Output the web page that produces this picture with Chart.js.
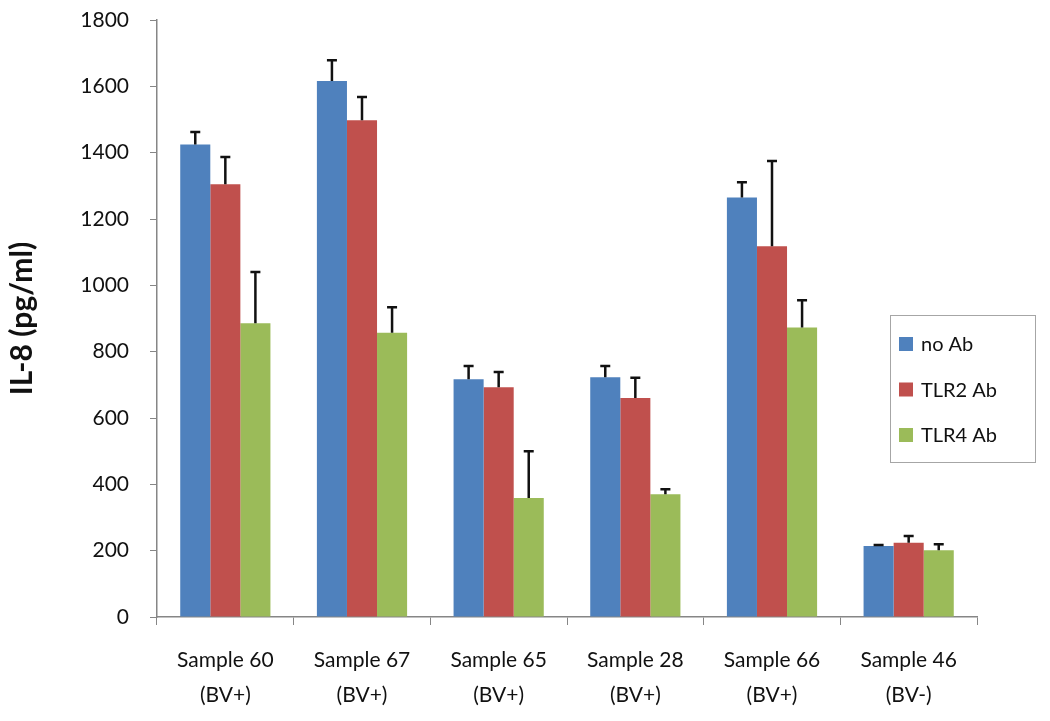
<!DOCTYPE html>
<html>
<head>
<meta charset="utf-8">
<script src="https://cdn.jsdelivr.net/npm/chart.js@4/dist/chart.umd.min.js"></script>
<style>
  html, body { margin: 0; padding: 0; background: #fff; }
  #wrap { width: 1050px; height: 721px; }
</style>
</head>
<body>
<div id="wrap"><canvas id="grafico"></canvas></div>
<script>
const categorias = [
  ['Sample 60', '(BV+)'],
  ['Sample 67', '(BV+)'],
  ['Sample 65', '(BV+)'],
  ['Sample 28', '(BV+)'],
  ['Sample 66', '(BV+)'],
  ['Sample 46', '(BV-)']
]
const series = ['no Ab', 'TLR2 Ab', 'TLR4 Ab']
const colores = ['#4F81BD', '#C0504D', '#9BBB59']

const valoresNoAb = [1425, 1616, 717, 723, 1265, 214]
const valoresTlr2 = [1305, 1498, 693, 660, 1118, 224]
const valoresTlr4 = [886, 857, 359, 370, 873, 201]

const erroresNoAb = [37, 63, 40, 34, 46, 3]
const erroresTlr2 = [82, 70, 46, 61, 257, 20]
const erroresTlr4 = [154, 77, 141, 15, 82, 18]

const valores = [valoresNoAb, valoresTlr2, valoresTlr4]
const errores = [erroresNoAb, erroresTlr2, erroresTlr4]

const fuente = 'Lato, "Liberation Sans", sans-serif'

// barras de error solo hacia arriba
const pluginErrores = {
  id: 'barrasError',
  afterDatasetsDraw(chart) {
    const ctx = chart.ctx
    const escalaY = chart.scales.y
    ctx.save()
    ctx.strokeStyle = '#111'
    ctx.lineWidth = 2.5
    chart.data.datasets.forEach((ds, i) => {
      const meta = chart.getDatasetMeta(i)
      meta.data.forEach((barra, j) => {
        const yTope = escalaY.getPixelForValue(ds.data[j] + ds.errores[j])
        ctx.beginPath()
        ctx.moveTo(barra.x, barra.y)
        ctx.lineTo(barra.x, yTope)
        ctx.moveTo(barra.x - 5, yTope)
        ctx.lineTo(barra.x + 5, yTope)
        ctx.stroke()
      })
    })
    ctx.restore()
  }
}

const pluginLeyenda = {
  id: 'leyendaCaja',
  afterDraw(chart) {
    const ctx = chart.ctx
    const x0 = 890, y0 = 315, ancho = 145, alto = 147
    ctx.save()
    ctx.strokeStyle = '#a6a6a6'
    ctx.lineWidth = 1
    ctx.strokeRect(x0 + 0.5, y0 + 0.5, ancho, alto)
    ctx.font = '20px ' + fuente
    ctx.textBaseline = 'middle'
    chart.data.datasets.forEach((ds, i) => {
      const yc = y0 + 29 + i * 45.5
      ctx.fillStyle = ds.backgroundColor
      ctx.fillRect(x0 + 9, yc - 7, 14, 14)
      ctx.fillStyle = '#111'
      ctx.fillText(ds.label, x0 + 31, yc + 1)
    })
    ctx.restore()
  }
}

const datasets = series.map((nombre, i) => ({
  label: nombre,
  data: valores[i],
  errores: errores[i],
  backgroundColor: colores[i],
  borderWidth: 0,
  barPercentage: 1.0,
  categoryPercentage: 0.66
}))

new Chart(document.querySelector('#grafico'), {
  type: 'bar',
  data: { labels: categorias, datasets: datasets },
  options: {
    responsive: true,
    maintainAspectRatio: false,
    animation: false,
    layout: { padding: { top: 0, right: 73, left: 0, bottom: 0 } },
    plugins: {
      legend: { display: false },
      tooltip: { enabled: false }
    },
    scales: {
      x: {
        grid: { display: true, drawOnChartArea: false, offset: true, tickLength: 8, color: '#868686', lineWidth: 1 },
        border: { color: '#868686', width: 1.5 },
        ticks: { color: '#111', font: { family: fuente, size: 21, lineHeight: 1.65 }, padding: 18, maxRotation: 0, autoSkip: false },
        afterFit(escala) { escala.height = 104 }
      },
      y: {
        min: 0,
        max: 1800,
        ticks: { stepSize: 200, color: '#111', font: { family: fuente, size: 21 }, padding: 21, callback: (v) => String(v) },
        grid: { display: true, drawOnChartArea: false, tickLength: 7, color: '#868686' },
        border: { color: '#868686', width: 1.5 },
        title: { display: true, text: 'IL-8 (pg/ml)', color: '#111', font: { family: fuente, size: 30, weight: 'bold' }, padding: { top: 4, bottom: 0 } },
        afterFit(escala) {
          escala.width = 157
          escala.paddingTop = 20
        }
      }
    }
  },
  plugins: [pluginErrores, pluginLeyenda]
})
</script>
</body>
</html>
